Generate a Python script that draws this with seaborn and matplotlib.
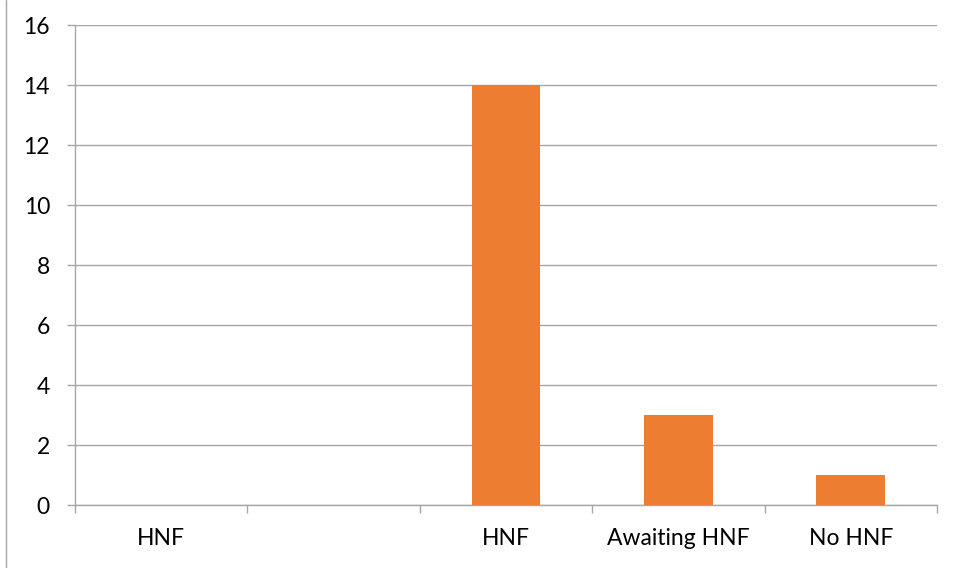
import matplotlib
matplotlib.use("Agg")
import matplotlib.pyplot as plt
from matplotlib.lines import Line2D
import numpy as np
import pandas as pd
import seaborn as sns

# Categories and counts
categories = ["HNF", "", "HNF", "Awaiting HNF", "No HNF"]
counts = [0, 0, 14, 3, 1]
y_ticks = [0, 2, 4, 6, 8, 10, 12, 14, 16]

sns.set_theme(style="white")
plt.rcParams["font.family"] = ["Lato", "DejaVu Sans"]

slots = [f"slot{i}" for i in range(len(categories))]
df = pd.DataFrame({"slot": slots, "count": counts})

fig = plt.figure(figsize=(9.54, 5.68), dpi=100)
ax = fig.add_axes([75 / 954, 1 - 505 / 568, (937 - 75) / 954, (505 - 25) / 568])

grid_color = "#A6A6A6"
sns.barplot(data=df, x="slot", y="count", order=slots, color="#ED7D31",
            width=0.4, saturation=1, linewidth=0, ax=ax, zorder=3)

ax.set_xlim(-0.5, len(categories) - 0.5)
ax.set_ylim(0, 16)
ax.set_yticks(y_ticks)
ax.set_yticklabels([str(v) for v in y_ticks])
ax.yaxis.grid(True, color=grid_color, linewidth=1.0, zorder=0)
ax.set_axisbelow(True)

ax.set_xticks(range(len(categories)))
ax.set_xticklabels(categories)
ax.set_xticks(np.arange(-0.5, len(categories), 1.0), minor=True)
ax.tick_params(axis="x", which="major", length=0, pad=16.5, labelsize=16.5, colors="black")
ax.tick_params(axis="x", which="minor", length=5.5, width=1.0, color=grid_color, bottom=True)
ax.tick_params(axis="y", which="major", length=6, width=1.0, color=grid_color,
               pad=12, labelsize=16.5, left=True, labelcolor="black")

ax.set_xlabel("")
ax.set_ylabel("")
for side in ("top", "right"):
    ax.spines[side].set_visible(False)
for side in ("left", "bottom"):
    ax.spines[side].set_color(grid_color)
    ax.spines[side].set_linewidth(1.0)

# thin frame line down the left edge of the figure
fig.add_artist(Line2D([6.5 / 954, 6.5 / 954], [0, 1], transform=fig.transFigure,
                      color="#A6A6A6", linewidth=1.0))

fig.savefig("out.png", dpi=100, facecolor="white")
